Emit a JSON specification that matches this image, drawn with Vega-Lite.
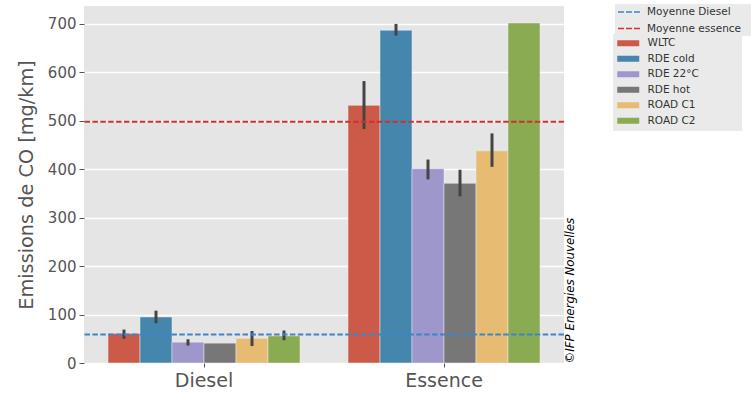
{
  "$schema": "https://vega.github.io/schema/vega-lite/v6.json",
  "width": 480,
  "height": 357,
  "autosize": {"type": "none"},
  "padding": {"left": 84, "top": 6, "right": 190, "bottom": 33},
  "background": "white",
  "config": {
    "view": {"fill": "#E5E5E5", "stroke": null},
    "font": "DejaVu Sans"
  },
  "resolve": {"axis": {"y": "independent"}},
  "datasets": {
    "bars": [
      {"group": "Diesel", "cat": "WLTC", "value": 61, "lo": 50, "hi": 69},
      {"group": "Diesel", "cat": "RDE cold", "value": 95, "lo": 82, "hi": 108},
      {"group": "Diesel", "cat": "RDE 22°C", "value": 43, "lo": 36, "hi": 49},
      {"group": "Diesel", "cat": "RDE hot", "value": 41, "lo": null, "hi": null},
      {"group": "Diesel", "cat": "ROAD C1", "value": 51, "lo": 35, "hi": 66},
      {"group": "Diesel", "cat": "ROAD C2", "value": 56, "lo": 47, "hi": 67},
      {"group": "Essence", "cat": "WLTC", "value": 532, "lo": 483, "hi": 582},
      {"group": "Essence", "cat": "RDE cold", "value": 687, "lo": 676, "hi": 700},
      {"group": "Essence", "cat": "RDE 22°C", "value": 401, "lo": 379, "hi": 420},
      {"group": "Essence", "cat": "RDE hot", "value": 371, "lo": 344, "hi": 399},
      {"group": "Essence", "cat": "ROAD C1", "value": 438, "lo": 405, "hi": 474},
      {"group": "Essence", "cat": "ROAD C2", "value": 702, "lo": null, "hi": null}
    ],
    "means": [
      {"name": "Moyenne Diesel", "mean": 59},
      {"name": "Moyenne essence", "mean": 498}
    ]
  },
  "layer": [
    {
      "data": {"name": "bars"},
      "mark": {"type": "bar", "stroke": "#EEEEEE", "strokeWidth": 0.5},
      "encoding": {
        "x": {
          "field": "group", "type": "nominal",
          "scale": {"paddingInner": 0.2, "paddingOuter": 0.1},
          "axis": {
            "title": null, "labelAngle": 0, "labelFontSize": 19, "labelColor": "#555555",
            "labelPadding": 4, "domain": false, "ticks": true, "tickColor": "#555555",
            "tickSize": 4, "grid": false
          }
        },
        "xOffset": {
          "field": "cat", "type": "nominal",
          "scale": {"domain": ["WLTC", "RDE cold", "RDE 22°C", "RDE hot", "ROAD C1", "ROAD C2"]}
        },
        "y": {
          "field": "value", "type": "quantitative",
          "scale": {"domain": [0, 737], "nice": false, "zero": true},
          "axis": {
            "title": "Emissions de CO [mg/km]", "titleFontSize": 19.3, "titleFontWeight": "normal",
            "titleColor": "#555555", "titlePadding": 11,
            "values": [0, 100, 200, 300, 400, 500, 600, 700],
            "labelFontSize": 15, "labelColor": "#555555", "labelPadding": 3,
            "domain": false, "tickColor": "#555555", "tickSize": 5,
            "grid": true, "gridColor": "#FFFFFF", "gridWidth": 1.3
          }
        },
        "color": {
          "field": "cat", "type": "nominal",
          "scale": {
            "domain": ["WLTC", "RDE cold", "RDE 22°C", "RDE hot", "ROAD C1", "ROAD C2"],
            "range": ["#CC5A49", "#4586AC", "#9E97CC", "#777777", "#E7BC72", "#8AAB51"]
          },
          "legend": {
            "title": null,
            "orient": "none",
            "legendX": 529,
            "legendY": 28,
            "fillColor": "#EAEAEA",
            "padding": 4,
            "labelFontSize": 10.5,
            "labelColor": "#333333",
            "labelOffset": 14,
            "symbolOffset": 6,
            "symbolSize": 100,
            "symbolType": "M-2.2,-0.6H2.2V0.6H-2.2Z",
            "symbolStrokeWidth": 0,
            "rowPadding": 4.5,
            "labelExpr": "datum.label + '\u2800\u2800\u2800\u2800\u2800'"
          }
        }
      }
    },
    {
      "data": {"name": "bars"},
      "transform": [{"filter": "isValid(datum.lo)"}],
      "mark": {"type": "rule", "color": "#444444", "strokeWidth": 3},
      "encoding": {
        "x": {"field": "group", "type": "nominal"},
        "xOffset": {"field": "cat", "type": "nominal"},
        "y": {"field": "lo", "type": "quantitative", "axis": null},
        "y2": {"field": "hi"}
      }
    },
    {
      "data": {"name": "means"},
      "mark": {"type": "rule", "strokeWidth": 2, "strokeDash": [5.5, 2.4]},
      "encoding": {
        "y": {
          "field": "mean", "type": "quantitative",
          "axis": {
            "orient": "right", "title": "©IFP Energies Nouvelles", "titleFontSize": 11.8,
            "titleFontStyle": "italic", "titleFontWeight": "normal", "titleColor": "#000000",
            "titleAngle": 270, "titleAnchor": "start", "titlePadding": 11,
            "labels": false, "ticks": false, "domain": false, "grid": false
          }
        },
        "stroke": {
          "field": "name", "type": "nominal",
          "scale": {
            "domain": ["Moyenne Diesel", "Moyenne essence"],
            "range": ["#3D85C6", "#D0312D"]
          },
          "legend": {
            "title": null,
            "orient": "none",
            "legendX": 531,
            "legendY": -2,
            "fillColor": "#EAEAEA",
            "padding": 2,
            "labelFontSize": 10.5,
            "labelColor": "#333333",
            "labelOffset": 12,
            "symbolOffset": 6,
            "symbolSize": 100,
            "symbolType": "M-2.2,0H2.2",
            "symbolDash": [6, 2],
            "symbolStrokeWidth": 1.6,
            "rowPadding": 4.5,
            "labelExpr": "datum.label + '\u2800'"
          }
        }
      }
    }
  ]
}
